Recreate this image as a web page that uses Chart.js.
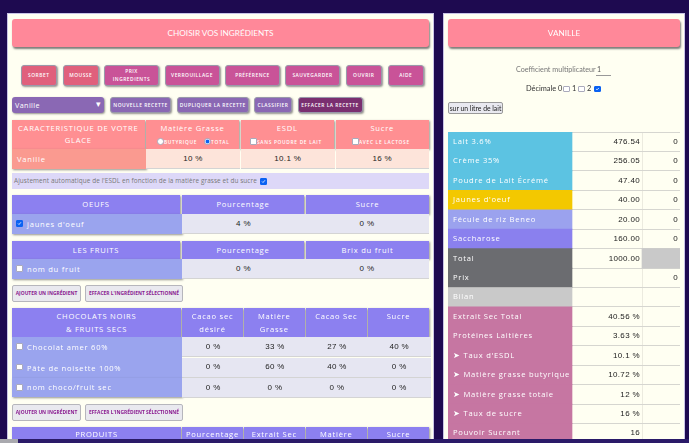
<!DOCTYPE html>
<html lang="fr"><head><meta charset="utf-8"><title>Choisir vos ingrédients</title>
<script src="https://cdn.jsdelivr.net/npm/chart.js@4"></script>
<style>
html,body{margin:0;padding:0;width:689px;height:443px;overflow:hidden;background:#1e0a50}
#root{position:absolute;inset:0;filter:blur(.4px)}
.c{position:absolute;box-sizing:border-box;display:flex;align-items:center;justify-content:center;text-align:center;color:#fff;font-family:"Open Sans",sans-serif;font-size:7.6px;letter-spacing:.75px;line-height:12.5px;white-space:pre}
.sh{box-shadow:1px 1px 2px rgba(60,60,60,.55)}
.btn{border:1px solid #99a;border-radius:3px;font-size:4.9px;line-height:8px;font-weight:600;letter-spacing:.5px}
.val{color:#222;font-family:"Liberation Sans",sans-serif;font-size:8px;letter-spacing:.35px;box-shadow:inset 0 -1px 0 #d4d4d4}
.add{background:#e9e9ef;color:#8a1a90;border:1px solid #b6b6bc;border-radius:2px;font-size:4.9px;font-weight:700;letter-spacing:0}
input{margin:0;position:absolute;width:6.5px;height:6.5px;appearance:none;-webkit-appearance:none;background:#fff;border:.5px solid #aab;box-sizing:border-box;border-radius:1px}
input[type=radio]{border-radius:50%}
input[type=radio]:checked{background:radial-gradient(circle,#0b62f2 45%,#cfe0ff 60%)}
input[type=checkbox]:checked{background:#0b62f2 url("data:image/svg+xml,%3Csvg xmlns='http://www.w3.org/2000/svg' viewBox='0 0 10 10'%3E%3Cpath d='M2 5l2 2 4-4.5' fill='none' stroke='white' stroke-width='1.6'/%3E%3C/svg%3E") center/100% no-repeat;border-color:#0b62f2}
#tableChart{position:absolute;left:448px;top:131.5px}
</style></head><body><div id="root">
<div class="c" style="left:7px;top:13px;width:427px;height:427px;background:#fffff2;border:1px solid #c9c4e6"></div>
<div class="c" style="left:443px;top:13px;width:242px;height:427px;background:#fffff2;border:1px solid #c9c4e6"></div>
<canvas id="tableChart" width="232" height="311" style="width:232px;height:311px"></canvas>
<div id="ui"></div>
<div class="c" style="left:0;top:439px;width:689px;height:4px;background:#2a1a68"></div>
<div class="c" style="left:0;top:439px;width:18px;height:4px;background:#a9a9ae"></div>
</div>
<script>
// ---------- values ----------
const topButtons = ["SORBET","MOUSSE","PRIX\nINGREDIENTS","VERROUILLAGE","PRÉFÉRENCE","SAUVEGARDER","OUVRIR","AIDE"];
const recipeButtons = ["NOUVELLE RECETTE","DUPLIQUER LA RECETTE","CLASSIFIER","EFFACER LA RECETTE"];
const targetHeads = ["CARACTERISTIQUE DE VOTRE\nGLACE","Matière Grasse","ESDL","Sucre"];
const targetValues = ["10 %","10.1 %","16 %"];
const eggValues = ["4 %","0 %"];
const fruitValues = ["0 %","0 %"];
const chocoHeads = ["CHOCOLATS NOIRS\n& FRUITS SECS","Cacao sec\ndésiré","Matière\nGrasse","Cacao Sec","Sucre"];
const chocoNames = ["Chocolat amer 60%","Pâte de noisette 100%","nom choco/fruit sec"];
const chocoValues = [["0 %","33 %","27 %","40 %"],["0 %","60 %","40 %","0 %"],["0 %","0 %","0 %","0 %"]];
const productHeads = ["PRODUITS","Pourcentage","Extrait Sec","Matière","Sucre"];
const rowLabels = ["Lait 3.6%","Crème 35%","Poudre de Lait Écrémé","Jaunes d'oeuf","Fécule de riz Beneo","Saccharose","Total","Prix","Bilan","Extrait Sec Total","Protéines Laitières","➤ Taux d'ESDL","➤ Matière grasse butyrique","➤ Matière grasse totale","➤ Taux de sucre","Pouvoir Sucrant"];
const rowAmounts = ["476.54","256.05","47.40","40.00","20.00","160.00","1000.00","","","40.56 %","3.63 %","10.1 %","10.72 %","12 %","16 %","16"];
const rowPrices = ["0","0","0","0","0","0","","0","","","","","","","",""];
const rowColors = ["#5cc3e2","#5cc3e2","#5cc3e2","#f3c800","#9ba2ee","#8a80ee","#6b6c70","#6b6c70","#c9c9c9","#c676a2","#c676a2","#c676a2","#c676a2","#c676a2","#c676a2","#c676a2"];

// ---------- HTML interface ----------
const ui = document.getElementById('ui');
function cell(x,y,w,h,text,bg,cls,extra){
  const d=document.createElement('div');
  d.className='c '+(cls||'');
  d.style.cssText=`left:${x}px;top:${y}px;width:${w}px;height:${h}px;`+(bg?`background:${bg};`:'')+(extra||'');
  d.textContent=text; ui.appendChild(d); return d;
}
function box(x,y,type,checked){
  const i=document.createElement('input'); i.type=type; i.checked=!!checked;
  i.style.left=x+'px'; i.style.top=y+'px'; ui.appendChild(i);
}
const left='justify-content:flex-start;padding-left:';
const titleStyle='font-family:Lato,sans-serif;font-size:8.2px;letter-spacing:0;border-radius:3px;box-shadow:1px 2px 2px rgba(70,70,70,.7);';
cell(12,19,417,28,"CHOISIR VOS INGRÉDIENTS","#ff8899","",titleStyle);
cell(448,19,232,28,"VANILLE","#ff8899","",titleStyle);

[[20.5,36.5],[62.5,36.5],[104,55],[164.5,55],[225,55],[285,55],[345.5,36.5],[387.5,36.5]].forEach((b,i)=>
  cell(b[0],64.5,b[1],21,topButtons[i],i<2?"#e0607c":"#c95398","btn sh"));
cell(12,97,92,16,"Vanille","#8a68b4","sh",left+"3px;border-radius:3px;font-size:7.2px;letter-spacing:.4px;");
cell(94.5,102,7,4,"▾","","","font-size:9px;letter-spacing:0;");
[[110,61],[176.5,72.5],[254,38],[297.5,65]].forEach((b,i)=>
  cell(b[0],97,b[1],16,recipeButtons[i],i==3?"#7a2f70":"#8a68b4","btn sh"));

// target characteristics
[[12,132.5],[146,93],[240.5,93.5],[335.5,93.5]].forEach((b,i)=>
  cell(b[0],119.5,b[1],29.5,targetHeads[i],"#ff8f92","sh",i?"align-items:flex-start;padding-top:2px;":""));
[["BUTYRIQUE",164,137.5],["TOTAL",211,137.5],["SANS POUDRE DE LAIT",257,137.5],["AVEC LE LACTOSE",359,137.5]].forEach(t=>
  cell(t[1],t[2],t[0].length*4.4,9,t[0],"","","font-size:4.8px;letter-spacing:.7px;font-weight:600;justify-content:flex-start;"));
box(157,138,'radio',false); box(204,138,'radio',true); box(250,138,'checkbox'); box(352,138,'checkbox');
cell(12,149,133.5,20,"Vanille","#fa9a90","sh",left+"5px;");
[[146,94],[240.5,94.5],[335.5,93.5]].forEach((b,i)=>cell(b[0],149,b[1],20,targetValues[i],"#fde4da","val"));
cell(12,173,417,16,"Ajustement automatique de l'ESDL en fonction de la matière grasse et du sucre","#ddd8f8","",left+"2px;color:#777;font-size:6.4px;letter-spacing:.1px;");
box(260,178,'checkbox',true);

// eggs and fruit
function table3(y,hh,rh,h,name,vals,chk){
  cell(12,y,168,hh,h[0],"#8c80f0","sh"); cell(182,y,122,hh,h[1],"#8c80f0","sh"); cell(306,y,123,hh,h[2],"#8c80f0","sh");
  cell(12,y+hh,170,rh,name,"#9aa4ee","sh",left+"15px;");
  box(16,y+hh+6,'checkbox',chk);
  cell(182,y+hh,123,rh,vals[0],"#e6e6f2","val"); cell(305,y+hh,124,rh,vals[1],"#e6e6f2","val");
}
table3(195,19,20,["OEUFS","Pourcentage","Sucre"],"jaunes d'oeuf",eggValues,true);
table3(241,18,20,["LES FRUITS","Pourcentage","Brix du fruit"],"nom du fruit",fruitValues,false);
function addButtons(y){
  cell(12,y,69,16.5,"AJOUTER UN INGRÉDIENT","","add"); cell(85,y,98,16.5,"EFFACER L'INGRÉDIENT SÉLECTIONNÉ","","add");
}
addButtons(285);

// chocolate and nuts
const cols=[[12,169],[182,61],[244,60.5],[306,60.5],[368,61]];
cols.forEach((b,i)=>cell(b[0],308,b[1],29,chocoHeads[i],"#8c80f0","sh",i>=3?"align-items:flex-start;padding-top:2px;":""));
chocoNames.forEach((n,r)=>{
  const y=337+r*20.5;
  cell(12,y,170,r==2?19:20.5,n,"#9aa4ee",r==2?"sh":"",left+"15px;");
  box(16,y+6,'checkbox',false);
  chocoValues[r].forEach((v,i)=>cell(cols[i+1][0],y,cols[i+1][1]+1.5,20,v,"#e6e6f2","val"));
});
addButtons(404);
cols.forEach((b,i)=>cell(b[0],427,b[1],20,productHeads[i],"#8c80f0","sh","align-items:flex-start;padding-top:1px;"));

// right panel controls
const small='justify-content:flex-start;font-family:Lato,sans-serif;letter-spacing:0;';
cell(516,64,80,12,"Coefficient multiplicateur","","",small+"color:#777;font-size:7.2px;");
cell(596,64,15,12,"1","","",small+"color:#555;font-size:7px;padding-left:1px;border-bottom:1px solid #999;");
[["Décimale 0",526],["1",572],["2",587]].forEach(t=>cell(t[1],83,t[0].length*4,12,t[0],"","",small+"color:#333;font-size:7.4px;"));
box(563,85.5,'checkbox'); box(578,85.5,'checkbox'); box(594,85.5,'checkbox',true);
cell(448,101.5,55,12.5,"sur un litre de lait","#e9e9f0","","color:#222;border:1px solid #999;border-radius:2px;font-family:Lato,sans-serif;font-size:6.8px;letter-spacing:0;");

// ---------- recipe table drawn by Chart.js ----------
const LABEL_END=124/232, AMOUNT_END=194/232;
const font={family:'"Open Sans",sans-serif',size:7.6};
const valuesPlugin={id:'rowValues',
  beforeDraw(c){c.ctx.letterSpacing='.75px';},
  afterDraw(c){
    const g=c.ctx,x=c.scales.x,y=c.scales.y;
    g.save(); g.letterSpacing='.35px'; g.fillStyle='#222'; g.textAlign='right'; g.textBaseline='middle';
    g.font='8px "Liberation Sans",sans-serif';
    rowLabels.forEach((_,i)=>{
      g.fillText(rowAmounts[i],x.getPixelForValue(AMOUNT_END)-2,y.getPixelForValue(i));
      g.fillText(rowPrices[i],x.getPixelForValue(1)-2,y.getPixelForValue(i));
    });
    g.restore();
  }};
function flatten(s){s.paddingTop=s.paddingBottom=s.paddingLeft=s.paddingRight=0;}
new Chart(document.getElementById('tableChart'),{
  type:'bar',
  data:{labels:rowLabels,datasets:[
    {data:rowLabels.map(()=>[0,LABEL_END]),backgroundColor:rowColors,barPercentage:1,categoryPercentage:1,grouped:false},
    {data:rowLabels.map(l=>l==="Total"?[AMOUNT_END,1]:null),backgroundColor:"#c9c9c9",barPercentage:1,categoryPercentage:1,grouped:false}
  ]},
  options:{indexAxis:'y',responsive:false,animation:false,devicePixelRatio:1,
    layout:{padding:0},
    plugins:{legend:{display:false},tooltip:{enabled:false}},
    scales:{
      x:{min:0,max:1,display:true,border:{display:false},
        afterBuildTicks(s){s.ticks=[{value:AMOUNT_END}];},
        afterFit(s){s.height=0;flatten(s);},
        ticks:{display:false},grid:{color:'#ecebdf',lineWidth:1,drawTicks:false}},
      y:{type:'category',offset:true,border:{display:false},
        afterFit(s){s.width=0;flatten(s);},
        grid:{color:'#d6d6d0',lineWidth:1,drawTicks:false,offset:true},
        ticks:{mirror:true,padding:5,z:1,color:'#fff',font,autoSkip:false,maxRotation:0}}
    }},
  plugins:[valuesPlugin]
});
</script></body></html>
